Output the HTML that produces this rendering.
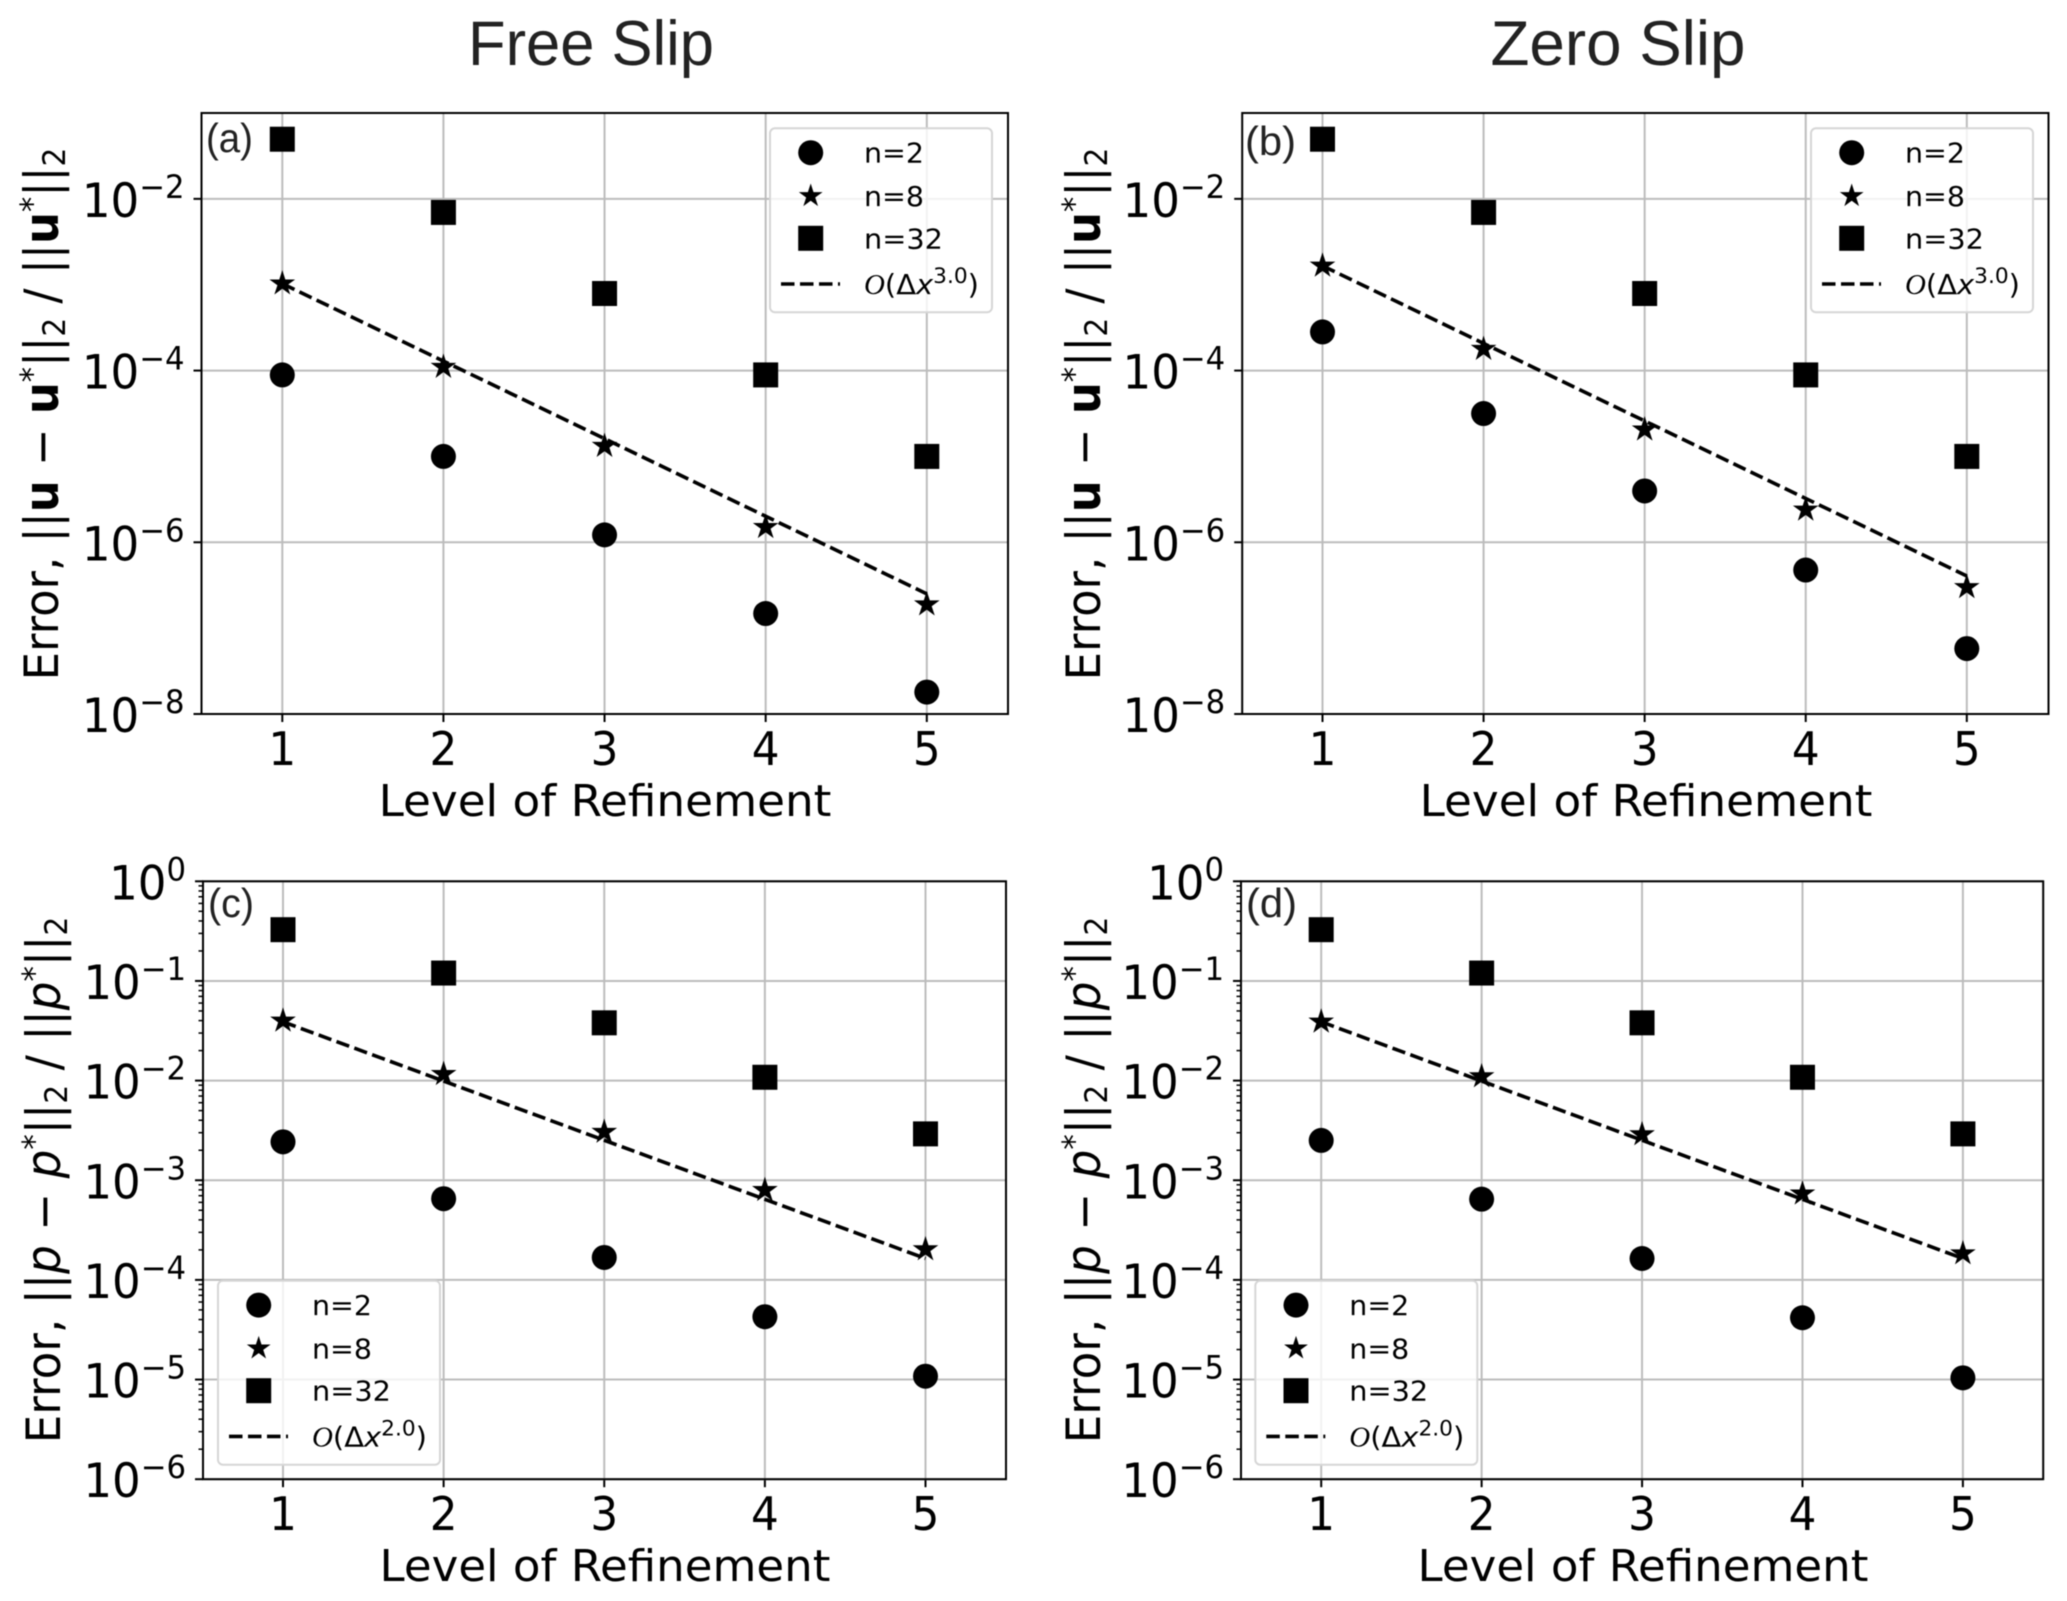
<!DOCTYPE html>
<html lang="en">
<head>
<meta charset="utf-8">
<title>Error convergence: Free Slip and Zero Slip</title>
<style>
html,body{margin:0;padding:0;background:#fff;}
svg{display:block;filter:blur(0.5px);}
text{font-family:"DejaVu Sans","Liberation Sans",sans-serif;fill:#000;}
.title{font-family:"Liberation Sans",sans-serif;font-size:63px;fill:#222;text-anchor:middle;}
.tag{font-family:"Liberation Sans",sans-serif;font-size:41px;fill:#222;}
.xlab{font-size:44px;text-anchor:middle;}
.ylab{font-size:47px;text-anchor:middle;}
.b{font-weight:bold;}
.i{font-style:italic;}
</style>
</head>
<body>
<svg id="figure" xmlns="http://www.w3.org/2000/svg" width="2067" height="1601" viewBox="0 0 2067 1601">
<rect x="0" y="0" width="2067" height="1601" fill="#fff"/>
<g id="panels"></g>

<text class="title" data-fit="246" transform="translate(591,65)">Free Slip</text>
<text class="title" data-fit="255" transform="translate(1618,65)">Zero Slip</text>

<text class="tag" data-fit="47" transform="translate(206,152)">(a)</text>
<text class="tag" data-fit="51" transform="translate(1245,155)">(b)</text>
<text class="tag" data-fit="46" transform="translate(208,917)">(c)</text>
<text class="tag" data-fit="51" transform="translate(1246,917)">(d)</text>

<text class="xlab" data-fit="453" transform="translate(605,816)">Level of Refinement</text>
<text class="xlab" data-fit="453" transform="translate(1646,816)">Level of Refinement</text>
<text class="xlab" data-fit="451" transform="translate(605,1581)">Level of Refinement</text>
<text class="xlab" data-fit="451" transform="translate(1643,1581)">Level of Refinement</text>

<text class="ylab" data-fit="533" transform="translate(58,414) rotate(-90)">Error, ||<tspan class="b">u</tspan> − <tspan class="b">u</tspan><tspan dy="-15" font-size="32">*</tspan><tspan dy="15">||</tspan><tspan dy="7" font-size="31">2</tspan><tspan dy="-7"> / ||</tspan><tspan class="b">u</tspan><tspan dy="-15" font-size="32">*</tspan><tspan dy="15">||</tspan><tspan dy="7" font-size="31">2</tspan></text>
<text class="ylab" data-fit="533" transform="translate(1100,414) rotate(-90)">Error, ||<tspan class="b">u</tspan> − <tspan class="b">u</tspan><tspan dy="-15" font-size="32">*</tspan><tspan dy="15">||</tspan><tspan dy="7" font-size="31">2</tspan><tspan dy="-7"> / ||</tspan><tspan class="b">u</tspan><tspan dy="-15" font-size="32">*</tspan><tspan dy="15">||</tspan><tspan dy="7" font-size="31">2</tspan></text>
<text class="ylab" data-fit="527" transform="translate(60,1180) rotate(-90)">Error, ||<tspan class="i">p</tspan> − <tspan class="i">p</tspan><tspan dy="-15" font-size="32">*</tspan><tspan dy="15">||</tspan><tspan dy="7" font-size="31">2</tspan><tspan dy="-7"> / ||</tspan><tspan class="i">p</tspan><tspan dy="-15" font-size="32">*</tspan><tspan dy="15">||</tspan><tspan dy="7" font-size="31">2</tspan></text>
<text class="ylab" data-fit="527" transform="translate(1100,1180) rotate(-90)">Error, ||<tspan class="i">p</tspan> − <tspan class="i">p</tspan><tspan dy="-15" font-size="32">*</tspan><tspan dy="15">||</tspan><tspan dy="7" font-size="31">2</tspan><tspan dy="-7"> / ||</tspan><tspan class="i">p</tspan><tspan dy="-15" font-size="32">*</tspan><tspan dy="15">||</tspan><tspan dy="7" font-size="31">2</tspan></text>
</svg>

<script>
// ---- chart data ----
const levels = [1, 2, 3, 4, 5];
const velocityTickExponents = [-2, -4, -6, -8];
const pressureTickExponents = [0, -1, -2, -3, -4, -5, -6];
const minorMultipliers = [2, 3, 4, 5, 6, 7, 8, 9];

const freeVelN2 = [8.9e-5, 1.0e-5, 1.22e-6, 1.48e-7, 1.80e-8];
const freeVelN8 = [1.03e-3, 1.10e-4, 1.32e-5, 1.50e-6, 1.88e-7];
const freeVelN32 = [0.0495, 0.00695, 7.9e-4, 8.9e-5, 1.0e-5];
const freeVelOrder = [1.03e-3, 1.29e-4, 1.61e-5, 2.01e-6, 2.51e-7];

const zeroVelN2 = [2.82e-4, 3.16e-5, 3.96e-6, 4.75e-7, 5.78e-8];
const zeroVelN8 = [1.66e-3, 1.78e-4, 2.05e-5, 2.39e-6, 2.99e-7];
const zeroVelN32 = [0.0495, 0.00695, 7.9e-4, 8.9e-5, 1.0e-5];
const zeroVelOrder = [1.66e-3, 2.07e-4, 2.59e-5, 3.24e-6, 4.05e-7];

const freePresN2 = [2.43e-3, 6.53e-4, 1.68e-4, 4.27e-5, 1.08e-5];
const freePresN8 = [0.0398, 0.0116, 3.05e-3, 7.94e-4, 2.02e-4];
const freePresN32 = [0.327, 0.120, 0.038, 0.0108, 2.92e-3];
const freePresOrder = [0.0389, 9.9e-3, 2.52e-3, 6.44e-4, 1.64e-4];

const zeroPresN2 = [2.51e-3, 6.46e-4, 1.64e-4, 4.17e-5, 1.04e-5];
const zeroPresN8 = [0.0389, 0.011, 2.88e-3, 7.33e-4, 1.84e-4];
const zeroPresN32 = [0.327, 0.120, 0.038, 0.0108, 2.92e-3];
const zeroPresOrder = [0.0389, 9.9e-3, 2.52e-3, 6.44e-4, 1.64e-4];

// ---- drawing ----
const SVGNS = 'http://www.w3.org/2000/svg';
function make(tag, attrs, parent, content) {
  const node = document.createElementNS(SVGNS, tag);
  for (const k in attrs) node.setAttribute(k, attrs[k]);
  if (content !== undefined) node.textContent = content;
  parent.appendChild(node);
  return node;
}

function starPoints(cx, cy, R) {
  const r = R * 0.382, pts = [];
  for (let i = 0; i < 10; i++) {
    const a = -Math.PI / 2 + i * Math.PI / 5, q = i % 2 ? r : R;
    pts.push((cx + q * Math.cos(a)).toFixed(2) + ',' + (cy + q * Math.sin(a)).toFixed(2));
  }
  return pts.join(' ');
}

function drawCircle(g, cx, cy) {
  const el = make('circle', {cx: cx, cy: cy, r: 12.5, fill: '#000'}, g);
  
  
  return el;
}
function drawStar(g, cx, cy, R) {
  const el = make('polygon', {points: starPoints(cx, cy, R), fill: '#000'}, g);
  
  
  return el;
}
function drawSquare(g, cx, cy) {
  const el = make('rect', {x: cx - 12.5, y: cy - 12.5, width: 25, height: 25, fill: '#000'}, g);
  
  
  return el;
}

function drawLegend(parent, box, orderLabel) {
  const g = make('g', {}, parent);
  
  

  const frame = make('rect', {x: box.x, y: box.y, width: 222, height: 184, rx: 5, ry: 5,
    fill: '#fff', 'fill-opacity': 0.8, stroke: '#d6d6d6', 'stroke-width': 2}, g);
  
  

  const rowY = [24.4, 67.7, 110, 155.7].map(function (d) { return box.y + d; });
  const cx = box.x + 40.7, tx = box.x + 94;

  drawCircle(g, cx, rowY[0]);
  drawStar(g, cx, rowY[1], 12.5);
  drawSquare(g, cx, rowY[2]);

  const t1 = make('text', {x: 0, y: 0, 'font-size': 28, transform: 'translate(' + tx + ',' + (rowY[0] + 10) + ')', 'data-fit': 60}, g, 'n=2');
  
  

  const t2 = make('text', {x: 0, y: 0, 'font-size': 28, transform: 'translate(' + tx + ',' + (rowY[1] + 10) + ')', 'data-fit': 60}, g, 'n=8');
  
  

  const t3 = make('text', {x: 0, y: 0, 'font-size': 28, transform: 'translate(' + tx + ',' + (rowY[2] + 10) + ')', 'data-fit': 79}, g, 'n=32');
  
  

  const dash = make('line', {x1: box.x + 11, x2: box.x + 70, y1: rowY[3], y2: rowY[3],
    stroke: '#000', 'stroke-width': 3.6, 'stroke-dasharray': '13.5 5.5'}, g);
  
  

  const t4 = make('text', {x: 0, y: 0, 'font-size': 28, transform: 'translate(' + tx + ',' + (rowY[3] + 10) + ')', 'data-fit': 115}, g);
  
  
  make('tspan', {'font-family': '"Liberation Serif",serif', 'font-style': 'italic'}, t4, 'O');
  make('tspan', {}, t4, '(Δ');
  make('tspan', {'font-style': 'italic'}, t4, 'x');
  make('tspan', {dy: -11, 'font-size': 21}, t4, orderLabel);
  make('tspan', {dy: 11}, t4, ')');
}

function drawPanel(cfg) {
  const root = document.getElementById('panels');
  const g = make('g', {}, root);
  
  

  const xScale = function (v) { return cfg.x1 + (v - levels[0]) * (cfg.x5 - cfg.x1) / (levels[levels.length - 1] - levels[0]); };
  const yScale = function (v) { return cfg.top + (cfg.expTop - Math.log10(v)) * (cfg.bottom - cfg.top) / (cfg.expTop - cfg.expBottom); };

  // grid and ticks
  levels.forEach(function (lv) {
    const x = xScale(lv);
    const grid = make('line', {x1: x, x2: x, y1: cfg.top, y2: cfg.bottom, stroke: '#bcbcbc', 'stroke-width': 2}, g);
    
    
    const tick = make('line', {x1: x, x2: x, y1: cfg.bottom, y2: cfg.bottom + 8, stroke: '#000', 'stroke-width': 2}, g);
    
    
    const label = make('text', {x: 0, y: 0, 'font-size': 46, 'text-anchor': 'middle',
      transform: 'translate(' + x + ',' + (cfg.bottom + 51) + ') scale(0.95,1)'}, g, String(lv));
    
    
  });

  cfg.ticks.forEach(function (exp) {
    const y = yScale(Math.pow(10, exp));
    const grid = make('line', {x1: cfg.left, x2: cfg.right, y1: y, y2: y, stroke: '#bcbcbc', 'stroke-width': 2}, g);
    
    
    const tick = make('line', {x1: cfg.left - 8, x2: cfg.left, y1: y, y2: y, stroke: '#000', 'stroke-width': 2}, g);
    
    
    const label = make('text', {x: 0, y: 0, 'font-size': 47, 'text-anchor': 'end',
      transform: 'translate(' + (cfg.left - 17) + ',' + (y + 18) + ') scale(0.96,1)'}, g, '10');
    
    
    make('tspan', {dy: -19, 'font-size': 32}, label, String(exp).replace('-', '\u2212'));
  });

  if (cfg.minor) {
    cfg.ticks.slice(1).forEach(function (exp) {
      minorMultipliers.forEach(function (m) {
        const y = yScale(m * Math.pow(10, exp));
        const mt = make('line', {x1: cfg.left - 4.5, x2: cfg.left, y1: y, y2: y, stroke: '#000', 'stroke-width': 1.5}, g);
        
        
      });
    });
  }

  // order reference line
  const pts = levels.map(function (lv, i) { return xScale(lv) + ',' + yScale(cfg.order[i]); }).join(' ');
  const line = make('polyline', {points: pts, fill: 'none', stroke: '#000', 'stroke-width': 3.6, 'stroke-dasharray': '13.5 5.5'}, g);
  
  

  // markers
  levels.forEach(function (lv, i) {
    drawCircle(g, xScale(lv), yScale(cfg.n2[i]));
    drawStar(g, xScale(lv), yScale(cfg.n8[i]), 13.5);
    drawSquare(g, xScale(lv), yScale(cfg.n32[i]));
  });

  drawLegend(g, cfg.legend, cfg.orderLabel);

  const frame = make('rect', {x: cfg.left, y: cfg.top, width: cfg.right - cfg.left, height: cfg.bottom - cfg.top,
    fill: 'none', stroke: '#000', 'stroke-width': 2}, g);
  
  
}

drawPanel({left: 201.5, right: 1008, top: 113, bottom: 714, x1: 282.3, x5: 926.8, expTop: -1, expBottom: -8,
  ticks: velocityTickExponents, minor: false, n2: freeVelN2, n8: freeVelN8, n32: freeVelN32, order: freeVelOrder,
  legend: {x: 770, y: 128.3}, orderLabel: '3.0'});
drawPanel({left: 1242.2, right: 2048.5, top: 113, bottom: 714, x1: 1322.5, x5: 1966.8, expTop: -1, expBottom: -8,
  ticks: velocityTickExponents, minor: false, n2: zeroVelN2, n8: zeroVelN8, n32: zeroVelN32, order: zeroVelOrder,
  legend: {x: 1811, y: 128.3}, orderLabel: '3.0'});
drawPanel({left: 203, right: 1006, top: 881.3, bottom: 1479.2, x1: 283, x5: 925.5, expTop: 0, expBottom: -6,
  ticks: pressureTickExponents, minor: true, n2: freePresN2, n8: freePresN8, n32: freePresN32, order: freePresOrder,
  legend: {x: 218, y: 1280.7}, orderLabel: '2.0'});
drawPanel({left: 1241, right: 2043.2, top: 881.3, bottom: 1479.2, x1: 1321.2, x5: 1962.9, expTop: 0, expBottom: -6,
  ticks: pressureTickExponents, minor: true, n2: zeroPresN2, n8: zeroPresN8, n32: zeroPresN32, order: zeroPresOrder,
  legend: {x: 1255.3, y: 1280.7}, orderLabel: '2.0'});

// stretch labels to their measured widths
document.querySelectorAll('[data-fit]').forEach(function (t) {
  const w = t.getComputedTextLength();
  if (w > 0) {
    const k = parseFloat(t.getAttribute('data-fit')) / w;
    t.setAttribute('transform', t.getAttribute('transform') + ' scale(' + k.toFixed(4) + ',1)');
  }
});
</script>
</body>
</html>
